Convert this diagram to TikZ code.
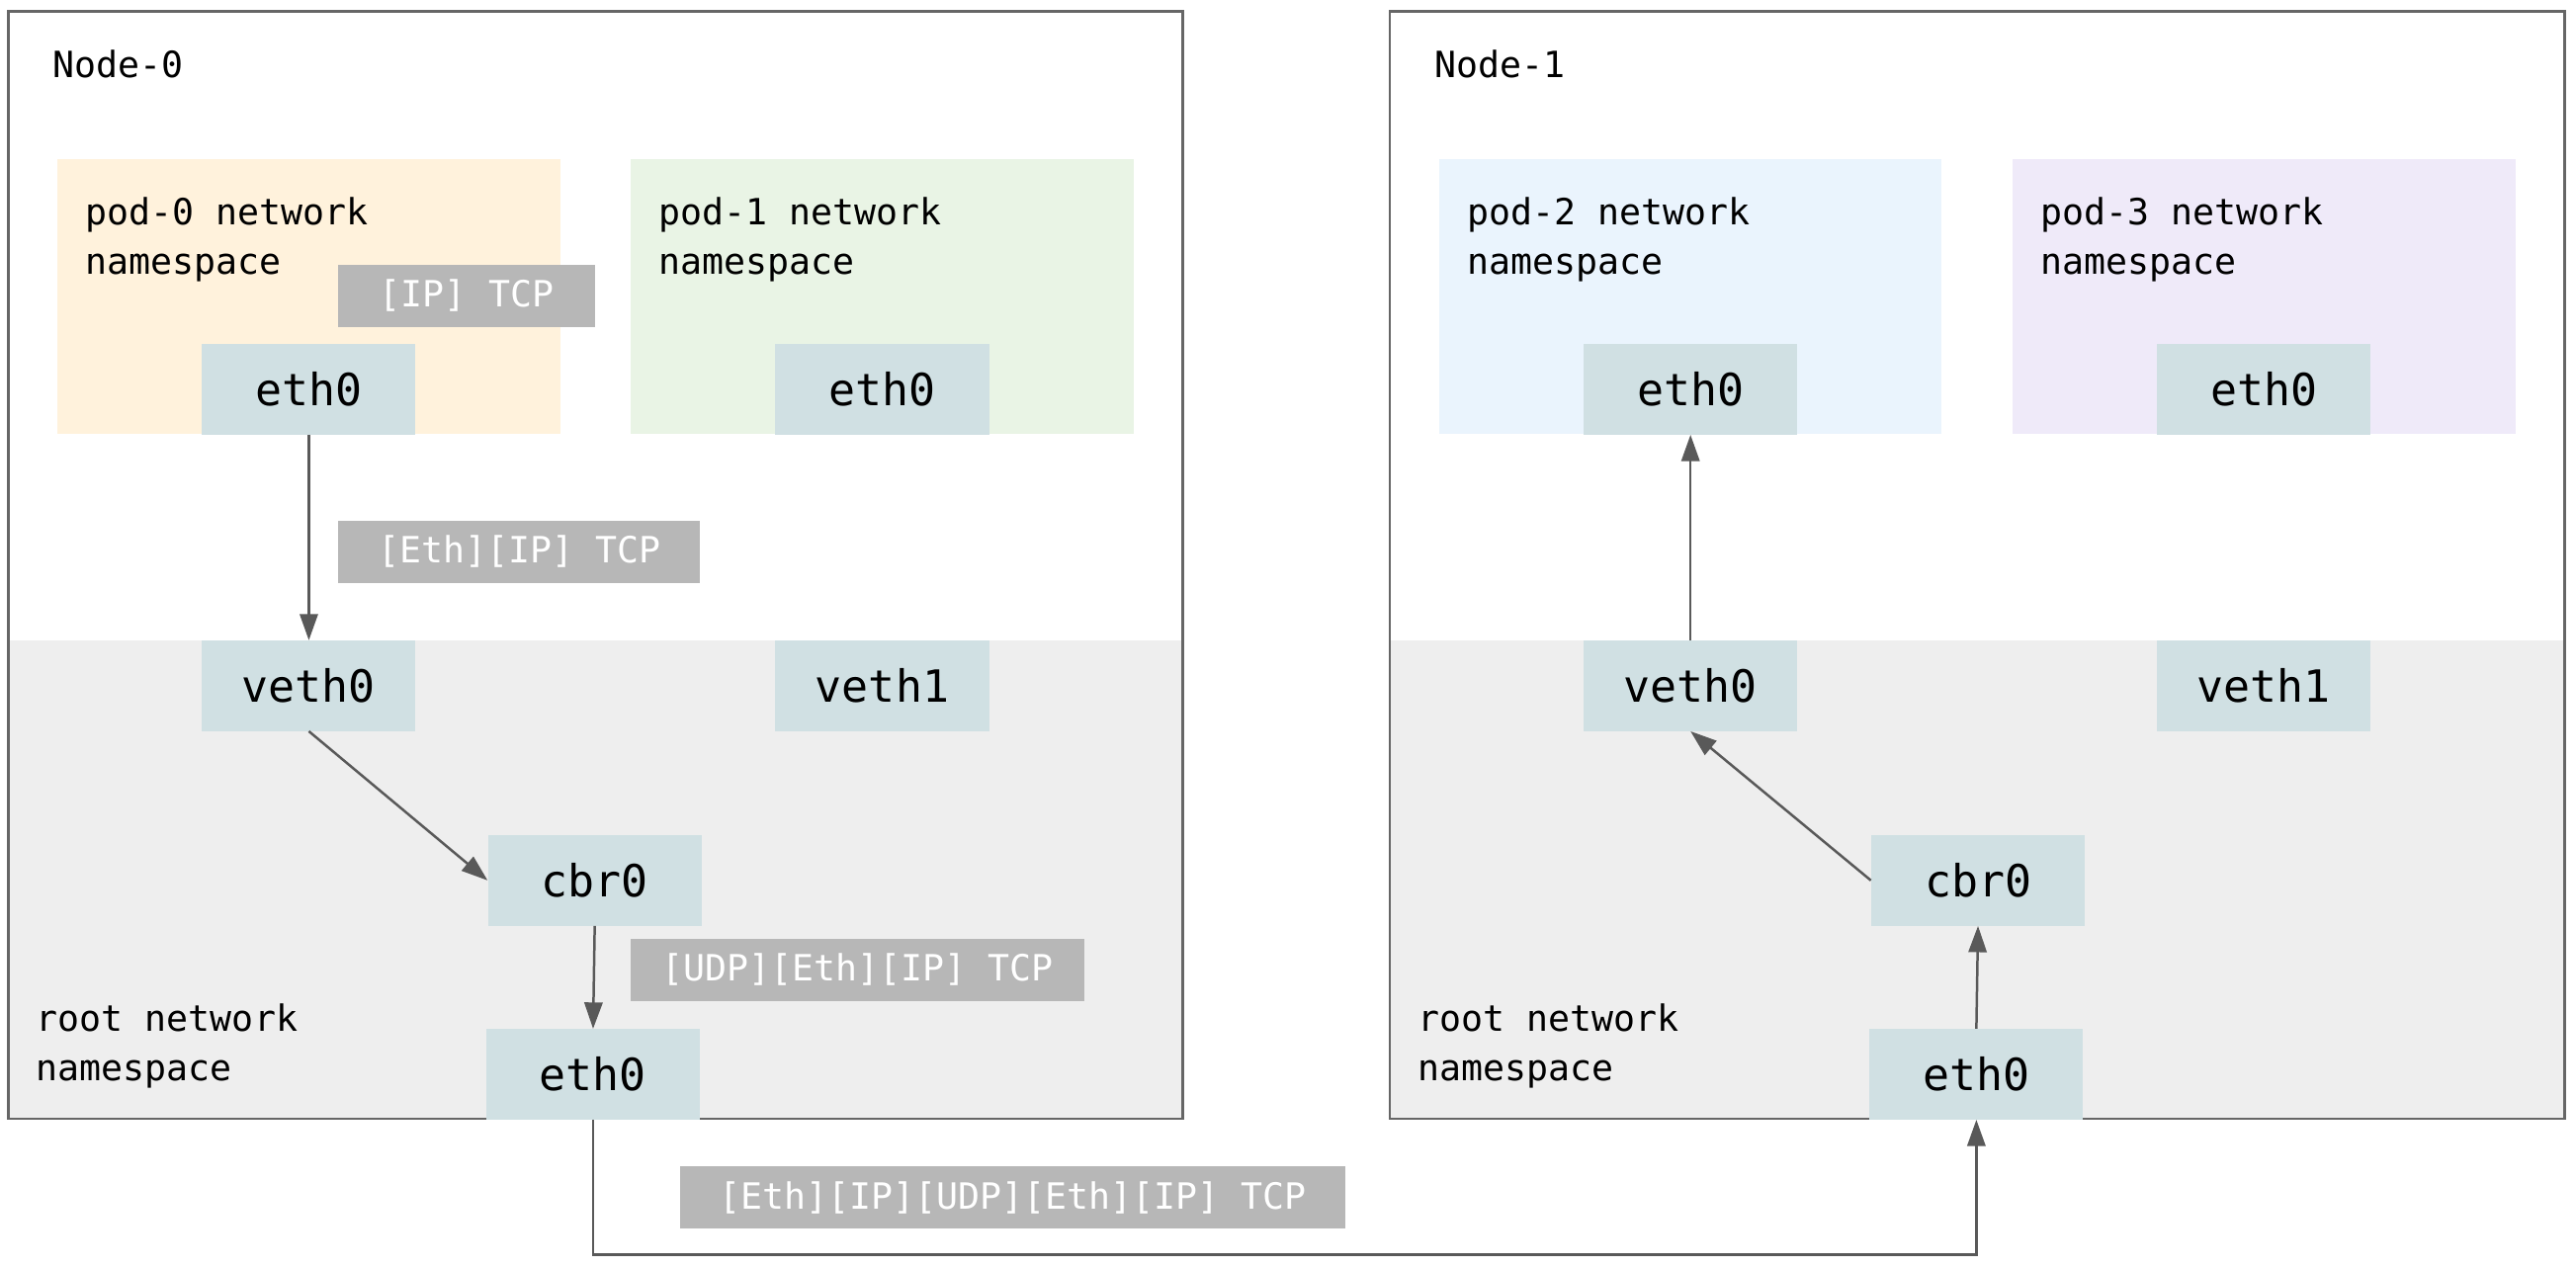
\documentclass[tikz,border=0pt]{standalone}
\usepackage{fontspec}
\usetikzlibrary{arrows.meta,positioning}
\newfontfamily\diagfont{DejaVu Sans Mono}
\definecolor{hostline}{HTML}{666666}
\definecolor{rootcol}{HTML}{EEEEEE}
\definecolor{podAcol}{HTML}{FFF2DC}
\definecolor{podBcol}{HTML}{E9F4E5}
\definecolor{podCcol}{HTML}{EAF4FD}
\definecolor{podDcol}{HTML}{EFEAF9}
\definecolor{ifacecol}{HTML}{D0E0E3}
\definecolor{hdrcol}{HTML}{B7B7B7}
\definecolor{linecol}{HTML}{595959}
\begin{document}
\begin{tikzpicture}[x=1pt,y=-1pt,
  iface/.style={fill=ifacecol, minimum width=130pt, minimum height=55pt, inner sep=0pt,
    font=\diagfont\fontsize{27}{30}\selectfont},
  hdr/.style={fill=hdrcol, text=white, minimum height=38pt, inner sep=0pt,
    font=\diagfont\fontsize{22}{30}\selectfont},
  lbl/.style={anchor=north west, align=left, inner sep=0pt,
    font=\diagfont\fontsize{22}{30}\selectfont},
  flow/.style={draw=linecol, line width=1.5pt, -{Triangle[length=16pt,width=11pt]}}]
  \useasboundingbox (0,0) rectangle (1568,771);
  % hosts with their root namespace
  \foreach \hx in {5,846} {
    \fill[rootcol] (\hx,390) rectangle ++(715,291);
    \draw[hostline, line width=1.6pt] (\hx,7) rectangle ++(715,674);
  }
  % pod namespaces
  \fill[podAcol] (35,97) rectangle (341,264);
  \fill[podBcol] (384,97) rectangle (690,264);
  \fill[podCcol] (876,97) rectangle (1182,264);
  \fill[podDcol] (1225,97) rectangle (1531,264);
  % texts
  \node[lbl, anchor=base west] (host0) at (32,47) {Node-0};
  \node[lbl, anchor=base west] (host1) at (873,47) {Node-1};
  \node[lbl] (podA) at (52,120) {pod-0 network\\namespace};
  \node[lbl] (podB) at (401,120) {pod-1 network\\namespace};
  \node[lbl] (podC) at (893,120) {pod-2 network\\namespace};
  \node[lbl] (podD) at (1242,120) {pod-3 network\\namespace};
  \node[lbl] (rootA) at (22,611) {root network\\namespace};
  \node[lbl] (rootB) at (863,611) {root network\\namespace};
  % interfaces, Node-0
  \node[iface] (podAeth) at (188,237) {eth0};
  \node[iface] (podBeth) at (537,237) {eth0};
  \node[iface] (vethA0) at (188,417.5) {veth0};
  \node[iface] (vethA1) at (537,417.5) {veth1};
  \node[iface] (cbrA) at (362,536) {cbr0};
  \node[iface] (ethA) at (361,654) {eth0};
  % interfaces, Node-1
  \node[iface] (podCeth) at (1029,237) {eth0};
  \node[iface] (podDeth) at (1378,237) {eth0};
  \node[iface] (vethB0) at (1029,417.5) {veth0};
  \node[iface] (vethB1) at (1378,417.5) {veth1};
  \node[iface] (cbrB) at (1204,536) {cbr0};
  \node[iface] (ethB) at (1203,654) {eth0};
  % packet headers
  \node[hdr, minimum width=156pt] (hdrA) at (284,180) {[IP] TCP};
  \node[hdr, minimum width=220pt] (hdrB) at (316,336) {[Eth][IP] TCP};
  \node[hdr, minimum width=276pt] (hdrC) at (522,590.5) {[UDP][Eth][IP] TCP};
  \node[hdr, minimum width=405pt] (hdrD) at (616.5,729) {[Eth][IP][UDP][Eth][IP] TCP};
  % packet path
  \draw[flow] (podAeth.south) -- (vethA0.north);
  \draw[flow] (vethA0.south) -- (cbrA.west);
  \draw[flow] (cbrA.south) -- (ethA.north);
  \draw[flow] (ethA.south) -- ++(0,82) -| (ethB.south);
  \draw[flow] (ethB.north) -- (cbrB.south);
  \draw[flow] (cbrB.west) -- (vethB0.south);
  \draw[flow] (vethB0.north) -- (podCeth.south);
\end{tikzpicture}
\end{document}
